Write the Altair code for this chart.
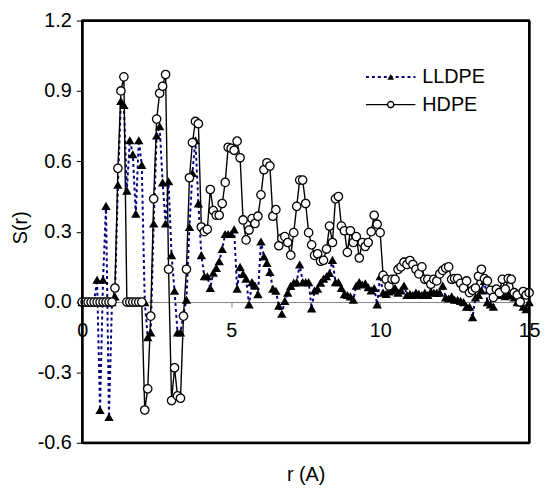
import altair as alt
import pandas as pd

# sample grid of r (Angstrom), 0.0 .. 15.0 step 0.1
r_values = [round(i * 0.1, 1) for i in range(151)]

hdpe = [
    0, 0, 0, 0, 0, 0, 0, 0, 0, 0,            # 0.0-0.9
    0, 0.06, 0.57, 0.90, 0.96, 0, 0, 0, 0, 0,  # 1.0-1.9
    0, -0.46, -0.37, -0.06, 0.44, 0.78, 0.89, 0.92, 0.97, 0.14,  # 2.0-2.9
    -0.42, -0.28, -0.40, -0.41, -0.06, 0.14, 0.53, 0.68, 0.77, 0.76,  # 3.0-3.9
    0.32, 0.30, 0.31, 0.48, 0.39, 0.37, 0.37, 0.42, 0.51, 0.66,  # 4.0-4.9
    0.655, 0.647, 0.686, 0.615, 0.35, 0.265, 0.307, 0.356, 0.335, 0.366,  # 5.0-5.9
    0.457, 0.564, 0.594, 0.58, 0.366, 0.394, 0.24, 0.272, 0.279, 0.254,  # 6.0-6.9
    0.20, 0.296, 0.408, 0.52, 0.52, 0.42, 0.296, 0.244, 0.199, 0.206,  # 7.0-7.9
    0.174, 0.178, 0.226, 0.324, 0.254, 0.44, 0.45, 0.324, 0.304, 0.212,  # 8.0-8.9
    0.304, 0.254, 0.279, 0.188, 0.254, 0.237, 0.254, 0.30, 0.37, 0.332,  # 9.0-9.9
    0.296, 0.114, 0.097, 0.069, 0.097, 0.097, 0.139, 0.15, 0.17, 0.16,  # 10.0-10.9
    0.177, 0.16, 0.14, 0.12, 0.15, 0.097, 0.097, 0.076, 0.097, 0.09,  # 11.0-11.9
    0.12, 0.135, 0.145, 0.15, 0.097, 0.10, 0.10, 0.08, 0.06, 0.09,  # 12.0-12.9
    0.04, 0.05, 0.06, 0.11, 0.14, 0.10, 0.09, 0.05, 0.02, 0.055,  # 13.0-13.9
    0.04, 0.097, 0.055, 0.10, 0.097, 0.04, 0.03, 0.0, 0.045, 0.03,  # 14.0-14.9
    0.04,  # 15.0
]

lldpe = [
    0, 0, 0, 0, 0, 0.095, -0.46, 0.095, 0.41, -0.49,  # 0.0-0.9
    0, 0.024, 0.50, 0.857, 0.84, 0.475, 0.69, 0.63, 0.377, 0.69,  # 1.0-1.9
    0.585, 0.0, -0.15, -0.13, 0.335, 0.71, 0.75, 0.51, 0.335, 0.515,  # 2.0-2.9
    0.20, 0.048, -0.13, -0.13, -0.05, 0.01, 0.32, 0.55, 0.69, 0.42,  # 3.0-3.9
    0.20, 0.11, 0.11, 0.06, 0.125, 0.146, 0.174, 0.226, 0.29, 0.29,  # 4.0-4.9
    0.29, 0.31, 0.057, 0.15, 0.12, 0.10, -0.01, 0.085, 0.07, 0.034,  # 5.0-5.9
    0.258, 0.195, 0.167, 0.128, 0.057, 0.048, -0.015, -0.05, 0.005, 0.04,  # 6.0-6.9
    0.069, 0.083, 0.085, 0.16, 0.085, 0.085, 0.085, -0.027, 0.05, 0.057,  # 7.0-7.9
    0.083, 0.10, 0.11, 0.124, 0.18, 0.085, 0.085, 0.06, 0.034, 0.03,  # 8.0-8.9
    0.024, 0.01, 0.07, 0.085, 0.075, 0.08, 0.063, 0.05, 0.06, -0.01,  # 9.0-9.9
    0.11, 0.04, 0.035, 0.045, 0.05, 0.06, 0.04, 0.05, 0.07, 0.03,  # 10.0-10.9
    0.035, 0.03, 0.04, 0.035, 0.03, 0.04, 0.03, 0.045, 0.04, 0.04,  # 11.0-11.9
    0.04, 0.07, 0.02, 0.015, 0.025, 0.01, 0.01, 0.005, 0.0, -0.02,  # 12.0-12.9
    -0.02, -0.065, 0.02, 0.03, 0.05, 0.09, 0.0, -0.01, -0.02, 0.03,  # 13.0-13.9
    0.035, 0.03, 0.025, 0.035, 0.03, 0.02, 0.0, 0.0, -0.02, -0.03,  # 14.0-14.9
    0.0,  # 15.0
]

x_ticks = [0, 5, 10, 15]
y_ticks = [-0.6, -0.3, 0.0, 0.3, 0.6, 0.9, 1.2]
x_domain = [0, 15]
y_domain = [-0.6, 1.2]
legend_labels = ["LLDPE", "HDPE"]

df_l = pd.DataFrame({"r": r_values, "S": lldpe})
df_h = pd.DataFrame({"r": r_values, "S": hdpe})
one = pd.DataFrame({"k": [0]})
# frame edges built from the axis domains
hedges = pd.DataFrame({"x0": [x_domain[0]] * 2, "x1": [x_domain[1]] * 2, "y": y_domain})
vedges = pd.DataFrame({"x": x_domain, "y0": [y_domain[0]] * 2, "y1": [y_domain[1]] * 2})

W, H = 452, 427
FONT = "Liberation Sans"
NAVY = "#000080"
zero_px = H * (1.2 / 1.8)

x_scale = alt.Scale(domain=x_domain, nice=False, zero=False)
y_scale = alt.Scale(domain=y_domain, nice=False, zero=False)

x_axis = alt.Axis(
    values=x_ticks, title="r (A)", offset=zero_px - H,
    domainColor="#808080", domainWidth=1, tickColor="#808080", tickSize=5,
    labelPadding=14, labelFontSize=20, labelFont=FONT, labelColor="black",
    labelFlush=False, labelOverlap=False, grid=False,
    titleFontSize=20, titleFont=FONT, titleFontWeight="normal", titleColor="black",
    titleY=180, titleBaseline="alphabetic",
)
y_axis = alt.Axis(
    values=y_ticks, title="S(r)",
    labelExpr="(datum.value < 0 ? '-' : '') + format(abs(datum.value), '.1f')",
    tickSize=6, tickColor="black", domainColor="black", domainWidth=2,
    labelPadding=5, labelFontSize=20, labelFont=FONT, labelColor="black", grid=False,
    titleFontSize=20, titleFont=FONT, titleFontWeight="normal", titleColor="black",
    titleX=-62, titleY=209, titleAngle=270, titleAlign="center", titleBaseline="middle",
)


def frame_axis(orient):
    return alt.Axis(orient=orient, domain=True, domainColor="black", domainWidth=2,
                    ticks=False, labels=False, grid=False, title="")


l_line = alt.Chart(df_l).mark_line(color=NAVY, strokeWidth=2, strokeDash=[3, 3]).encode(
    x=alt.X("r:Q", scale=x_scale, axis=x_axis),
    y=alt.Y("S:Q", scale=y_scale, axis=y_axis),
)
l_pts = alt.Chart(df_l).mark_point(
    shape="triangle-up", filled=True, color="black", size=90, opacity=1
).encode(x=alt.X("r:Q", axis=None), y=alt.Y("S:Q", axis=None))
h_line = alt.Chart(df_h).mark_line(color="black", strokeWidth=1.4).encode(
    x=alt.X("r:Q", axis=None), y=alt.Y("S:Q", axis=None))
h_pts = alt.Chart(df_h).mark_point(
    shape="circle", filled=True, fill="white", stroke="black", strokeWidth=1.3, size=72, opacity=1
).encode(x=alt.X("r:Q", axis=None), y=alt.Y("S:Q", axis=None))

# frame: top/right drawn as axis domain lines, plus rules on all four edges
frame_h = alt.Chart(hedges).mark_rule(color="#000000", strokeWidth=2, opacity=1).encode(
    x=alt.X("x0:Q", axis=frame_axis("top")), x2="x1:Q",
    y=alt.Y("y:Q", axis=frame_axis("right")))
frame_v = alt.Chart(vedges).mark_rule(color="#000000", strokeWidth=2, opacity=1).encode(
    x=alt.X("x:Q", axis=frame_axis("bottom")),
    y=alt.Y("y0:Q", axis=None), y2="y1:Q")

# legend (top right, inside the plot)
lx1, lx2, lxm, ltx = 287, 337, 312, 344
ly1, ly2 = 57, 85
leg = [
    alt.Chart(one).mark_rule(color=NAVY, strokeWidth=2, strokeDash=[3, 3]).encode(
        x=alt.value(lx1), x2=alt.value(lx2), y=alt.value(ly1)),
    alt.Chart(one).mark_point(shape="triangle-up", filled=True, color="black", size=45, opacity=1).encode(
        x=alt.value(lxm), y=alt.value(ly1)),
    alt.Chart(one).mark_text(text=legend_labels[0], align="left", baseline="middle",
                             font=FONT, fontSize=20, color="black").encode(
        x=alt.value(ltx), y=alt.value(ly1)),
    alt.Chart(one).mark_rule(color="black", strokeWidth=1.4).encode(
        x=alt.value(lx1), x2=alt.value(lx2), y=alt.value(ly2)),
    alt.Chart(one).mark_point(shape="circle", filled=True, fill="white", stroke="black",
                              strokeWidth=1.3, size=40, opacity=1).encode(
        x=alt.value(lxm), y=alt.value(ly2)),
    alt.Chart(one).mark_text(text=legend_labels[1], align="left", baseline="middle",
                             font=FONT, fontSize=20, color="black").encode(
        x=alt.value(ltx), y=alt.value(ly2)),
]

chart = alt.layer(l_line, l_pts, h_line, h_pts, frame_h, frame_v, *leg).resolve_axis(
    x="independent", y="independent"
).properties(
    width=W, height=H,
    background="white",
    autosize=alt.AutoSizeParams(type="none"),
    padding={"left": 75, "top": 10, "right": 12, "bottom": 44},
).configure_view(stroke="#000000", strokeWidth=2, strokeOpacity=1)

chart.save("out.html", embed_options={"renderer": "svg", "actions": False})
